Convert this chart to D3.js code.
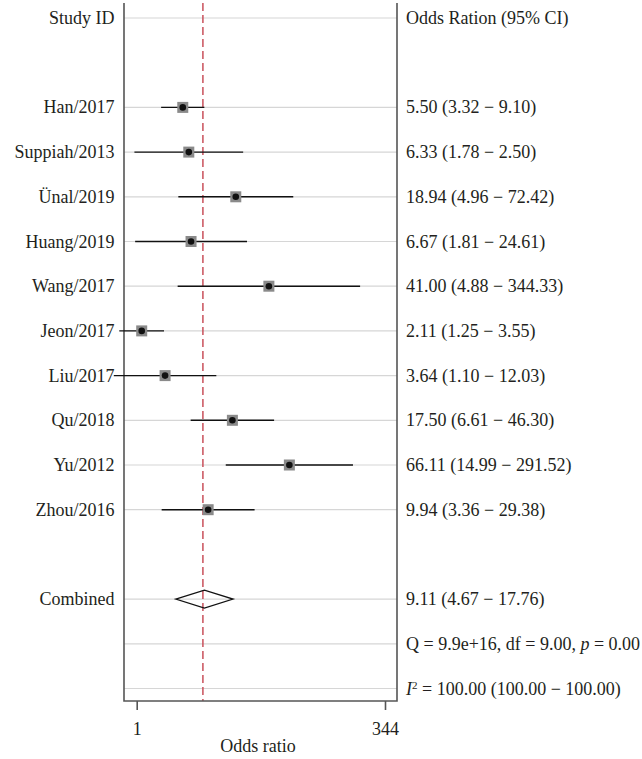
<!DOCTYPE html>
<html>
<head>
<meta charset="utf-8">
<script src="https://cdn.jsdelivr.net/npm/d3@7"></script>
<style>
  html, body { margin: 0; padding: 0; background: #fff; }
  svg { display: block; }
  text { font-family: "Liberation Serif", "Times New Roman", serif; fill: #231f20; }
</style>
</head>
<body>
<svg id="chart" width="642" height="759"></svg>
<script>
// ---- Data ----
const studies = ["Han/2017", "Suppiah/2013", "Ünal/2019", "Huang/2019", "Wang/2017",
                 "Jeon/2017", "Liu/2017", "Qu/2018", "Yu/2012", "Zhou/2016"];
const oddsRatio = [5.50, 6.33, 18.94, 6.67, 41.00, 2.11, 3.64, 17.50, 66.11, 9.94];
const ciLower   = [3.32, 1.78, 4.96, 1.81, 4.88, 1.25, 1.10, 6.61, 14.99, 3.36];
const ciUpper   = [9.10, 22.50, 72.42, 24.61, 344.33, 3.55, 12.03, 46.30, 291.52, 29.38];
const ciText    = ["5.50 (3.32 − 9.10)", "6.33 (1.78 − 2.50)", "18.94 (4.96 − 72.42)",
                   "6.67 (1.81 − 24.61)", "41.00 (4.88 − 344.33)", "2.11 (1.25 − 3.55)",
                   "3.64 (1.10 − 12.03)", "17.50 (6.61 − 46.30)", "66.11 (14.99 − 291.52)",
                   "9.94 (3.36 − 29.38)"];
const combined = { label: "Combined", or: 9.11, lo: 4.67, hi: 17.76, text: "9.11 (4.67 − 17.76)" };
const heterogeneity = "Q = 9.9e+16, df = 9.00, ";
const heterogeneityP = " = 0.00";
const i2Text = " = 100.00 (100.00 − 100.00)";
const axisTicks = [1, 344];
const headerLeft = "Study ID";
const headerRight = "Odds Ration (95% CI)";
const xTitle = "Odds ratio";

// ---- Layout ----
const svg = d3.select("#chart");
const plotLeft = 124, plotRight = 397, plotTop = 3, plotBottom = 701;
const nRows = 16;

const y = d3.scaleLinear().domain([0, nRows - 1]).range([18, 688.5]);
const x = d3.scaleLog().domain([1, 344.33]).range([109.7, 360.1]);
const xAxisScale = d3.scaleLog().domain([1, 344]).range([136.7, 385]);

const studyRows = studies.map((s, i) => i + 2);
const combinedRow = 13, qRow = 14, i2Row = 15;
const gridRows = [0, ...studyRows, combinedRow, qRow, i2Row];

// gridlines
svg.append("g").selectAll("line").data(gridRows).join("line")
  .attr("x1", plotLeft).attr("x2", plotRight)
  .attr("y1", d => y(d)).attr("y2", d => y(d))
  .attr("stroke", "#d6d6d6").attr("stroke-width", 1.2);

// reference dashed line at combined estimate
svg.append("line")
  .attr("x1", x(combined.or) - 1.5).attr("x2", x(combined.or) - 1.5)
  .attr("y1", plotTop).attr("y2", plotBottom)
  .attr("stroke", "#c9505b").attr("stroke-width", 1.5)
  .attr("stroke-dasharray", "8,4");

// frame
const frame = svg.append("g").attr("stroke", "#555").attr("stroke-width", 1.6).attr("fill", "none");
frame.append("path").attr("d", `M${plotLeft},${plotTop}V${plotBottom}H${plotRight}V${plotTop}`);

// CI lines
const g = svg.append("g");
g.selectAll("line.ci").data(studies).join("line").attr("class", "ci")
  .attr("x1", (d, i) => x(ciLower[i])).attr("x2", (d, i) => x(ciUpper[i]))
  .attr("y1", (d, i) => y(studyRows[i])).attr("y2", (d, i) => y(studyRows[i]))
  .attr("stroke", "#111").attr("stroke-width", 1.4);

// squares
const sq = 11;
g.selectAll("rect.box").data(studies).join("rect").attr("class", "box")
  .attr("x", (d, i) => x(oddsRatio[i]) - sq / 2).attr("y", (d, i) => y(studyRows[i]) - sq / 2)
  .attr("width", sq).attr("height", sq).attr("fill", "#8a8a8a");

// dots
g.selectAll("circle.pt").data(studies).join("circle").attr("class", "pt")
  .attr("cx", (d, i) => x(oddsRatio[i])).attr("cy", (d, i) => y(studyRows[i]))
  .attr("r", 3.3).attr("fill", "#111");

// diamond
const cy = y(combinedRow), dh = 9;
svg.append("path")
  .attr("d", `M${x(combined.lo)},${cy}L${x(combined.or)},${cy - dh}L${x(combined.hi)},${cy}L${x(combined.or)},${cy + dh}Z`)
  .attr("fill", "none").attr("stroke", "#111").attr("stroke-width", 1.3);

// left labels
const fs = 18;
const leftX = 114.5, rightX = 406;
const leftLabels = [{ row: 0, t: headerLeft }, ...studies.map((s, i) => ({ row: studyRows[i], t: s })),
                    { row: combinedRow, t: combined.label }];
svg.append("g").selectAll("text").data(leftLabels).join("text")
  .attr("x", leftX).attr("y", d => y(d.row) + 6)
  .attr("text-anchor", "end").attr("font-size", fs).text(d => d.t);

// right labels
const rightLabels = [{ row: 0, t: headerRight }, ...ciText.map((s, i) => ({ row: studyRows[i], t: s })),
                     { row: combinedRow, t: combined.text }];
svg.append("g").selectAll("text").data(rightLabels).join("text")
  .attr("x", rightX).attr("y", d => y(d.row) + 6)
  .attr("font-size", fs).text(d => d.t);

// heterogeneity
const qt = svg.append("text").attr("x", rightX).attr("y", y(qRow) + 6).attr("font-size", fs);
qt.append("tspan").text(heterogeneity);
qt.append("tspan").attr("font-style", "italic").text("p");
qt.append("tspan").text(heterogeneityP);

const it = svg.append("text").attr("x", rightX).attr("y", y(i2Row) + 6).attr("font-size", fs);
it.append("tspan").attr("font-style", "italic").text("I");
it.append("tspan").attr("font-size", 11).attr("dy", -6).text("2");
it.append("tspan").attr("dy", 6).text(i2Text);

// x axis ticks
const axis = d3.axisBottom(xAxisScale).tickValues(axisTicks).tickFormat(d3.format("d"))
  .tickSize(9).tickPadding(12);
const ax = svg.append("g").attr("transform", `translate(0,${plotBottom})`).call(axis);
ax.select(".domain").remove();
ax.selectAll(".tick line").attr("stroke", "#555").attr("stroke-width", 1.6);
ax.selectAll(".tick text").attr("font-size", fs).attr("font-family", "Liberation Serif").attr("fill", "#231f20");

svg.append("text").attr("x", 258).attr("y", 752).attr("text-anchor", "middle")
  .attr("font-size", fs).text(xTitle);
</script>
</body>
</html>
